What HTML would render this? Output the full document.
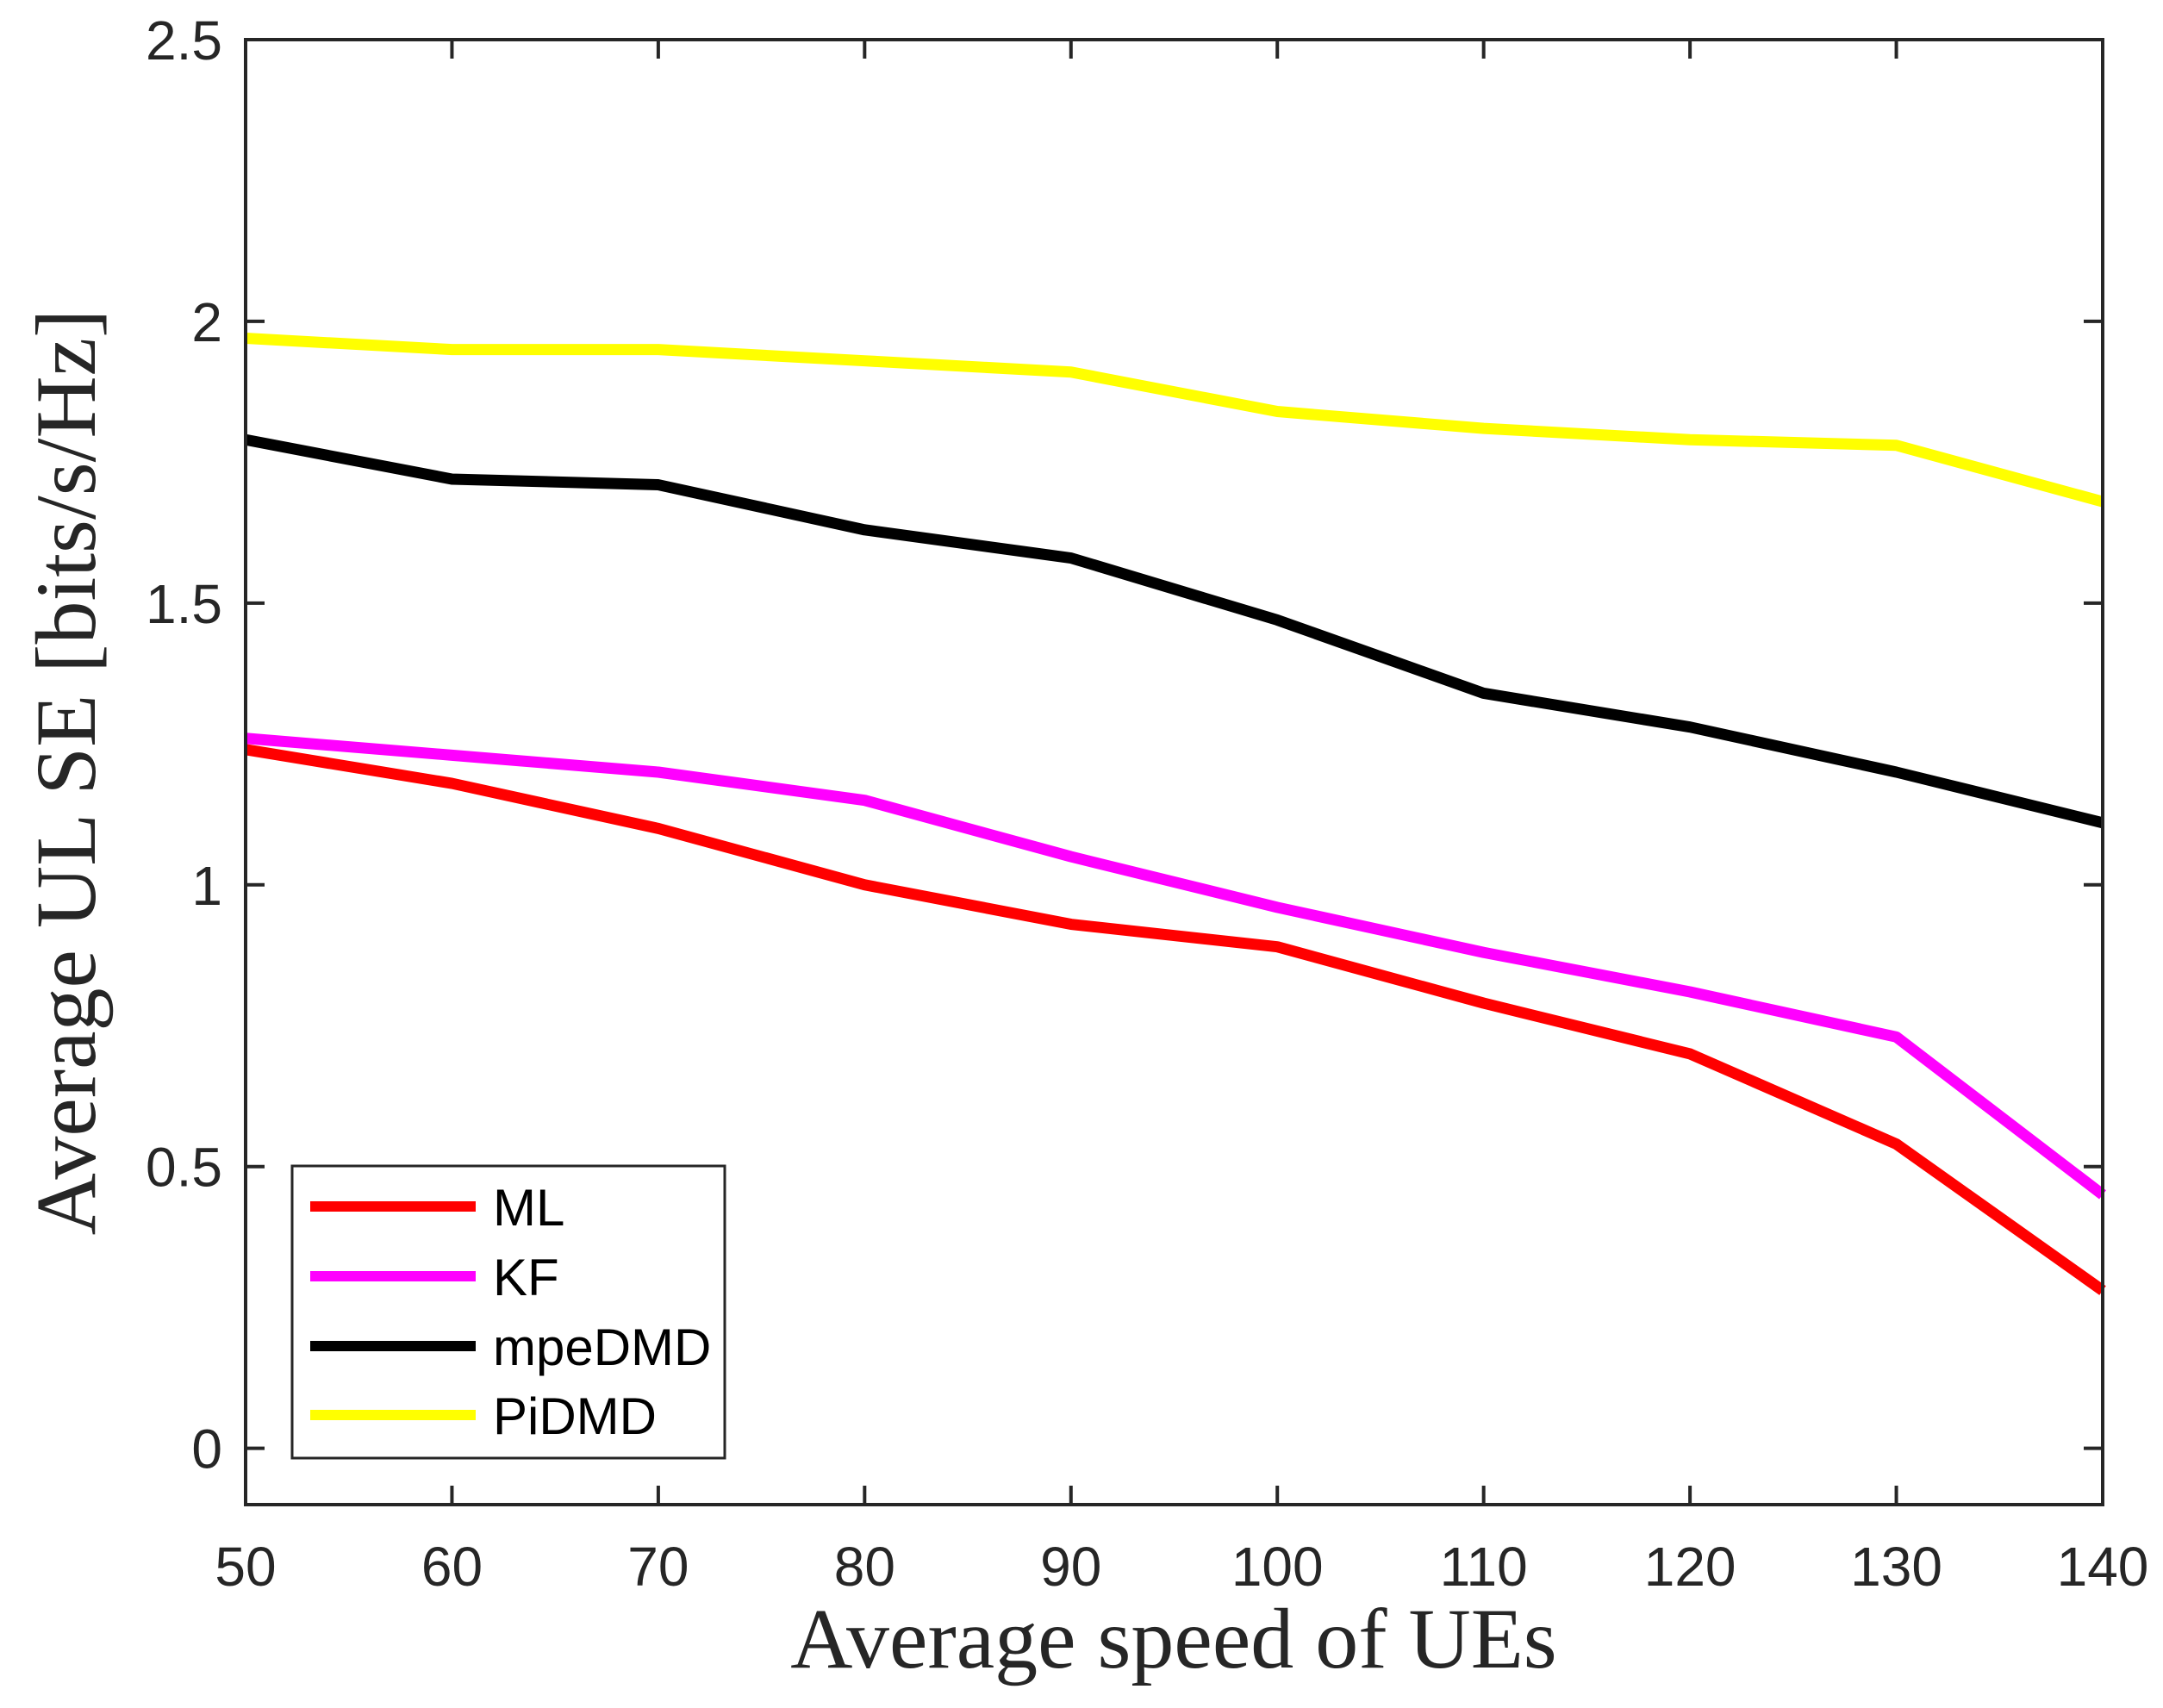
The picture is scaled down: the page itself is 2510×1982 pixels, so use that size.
<!DOCTYPE html>
<html><head><meta charset="utf-8"><style>body{margin:0;background:#fff}svg{display:block}</style></head>
<body>
<svg id="c" width="2510" height="1982" xmlns="http://www.w3.org/2000/svg"></svg>
<script>
const xCats=[50,60,70,80,90,100,110,120,130,140];
const mlVals=[1.24,1.18,1.10,1.00,0.93,0.89,0.79,0.70,0.54,0.28];
const kfVals=[1.26,1.23,1.20,1.15,1.05,0.96,0.88,0.81,0.73,0.45];
const mpeVals=[1.79,1.72,1.71,1.63,1.58,1.47,1.34,1.28,1.20,1.11];
const piVals=[1.97,1.95,1.95,1.93,1.91,1.84,1.81,1.79,1.78,1.68];
const yTicks=[0,0.5,1,1.5,2,2.5];
const yTickLabels=['0','0.5','1','1.5','2','2.5'];
const xTicks=[50,60,70,80,90,100,110,120,130,140];
const NS='http://www.w3.org/2000/svg';
const svg=document.getElementById('c');
const L=285,R=2440,T=46,B=1746;
const xs=v=>L+(v-50)/(90)*(R-L);
const ys=v=>T+(2.5-v)/(2.6)*(B-T);
function mk(t,a){const e=document.createElementNS(NS,t);for(const k in a)e.setAttribute(k,a[k]);svg.appendChild(e);return e;}
const series=[[mlVals,'#ff0000','ML','ml-line'],[kfVals,'#ff00ff','KF','kf-line'],[mpeVals,'#000000','mpeDMD','mpedmd-line'],[piVals,'#ffff00','PiDMD','pidmd-line']];
series.forEach(s=>{
 const p=mk('polyline',{points:xCats.map((x,i)=>xs(x)+','+ys(s[0][i])).join(' '),fill:'none',stroke:s[1],'stroke-width':13,'stroke-linejoin':'round'});
 
 
});
const ax=mk('rect',{x:L,y:T,width:R-L,height:B-T,fill:'none',stroke:'#262626','stroke-width':4});


yTicks.forEach((v,i)=>{
 const y=ys(v);
 mk('line',{x1:L,x2:L+22,y1:y,y2:y,stroke:'#262626','stroke-width':4});
 mk('line',{x1:R,x2:R-22,y1:y,y2:y,stroke:'#262626','stroke-width':4});
 const t=mk('text',{x:258,y:y+23,'text-anchor':'end','font-family':'Liberation Sans, sans-serif','font-size':64,fill:'#262626'});
 t.textContent=yTickLabels[i];
 
 
});
xTicks.forEach(v=>{
 const x=xs(v);
 mk('line',{x1:x,x2:x,y1:B,y2:B-22,stroke:'#262626','stroke-width':4});
 mk('line',{x1:x,x2:x,y1:T,y2:T+22,stroke:'#262626','stroke-width':4});
 const t=mk('text',{x:x,y:1840,'text-anchor':'middle','font-family':'Liberation Sans, sans-serif','font-size':64,fill:'#262626'});
 t.textContent=String(v);
 
 
});
const xt=mk('text',{x:1362,y:1935,'text-anchor':'middle','font-family':'Liberation Serif, serif','font-size':100,fill:'#262626'});
xt.textContent='Average speed of UEs';


const yt=mk('text',{x:0,y:0,'text-anchor':'middle','font-family':'Liberation Serif, serif','font-size':100,fill:'#262626',transform:'translate(110,896) rotate(-90)'});
yt.textContent='Average UL SE [bits/s/Hz]';


const lg=mk('rect',{x:339,y:1353,width:502,height:339,fill:'#fff',stroke:'#262626','stroke-width':3});


const ly=[1400,1481,1562,1642];
series.forEach((s,i)=>{
 const l=mk('line',{x1:360,x2:552,y1:ly[i],y2:ly[i],stroke:s[1],'stroke-width':12});
 
 
 const t=mk('text',{x:572,y:ly[i]+22,'font-family':'Liberation Sans, sans-serif','font-size':60,fill:'#000'});
 t.textContent=s[2];
 
 
});
</script>
</body></html>
